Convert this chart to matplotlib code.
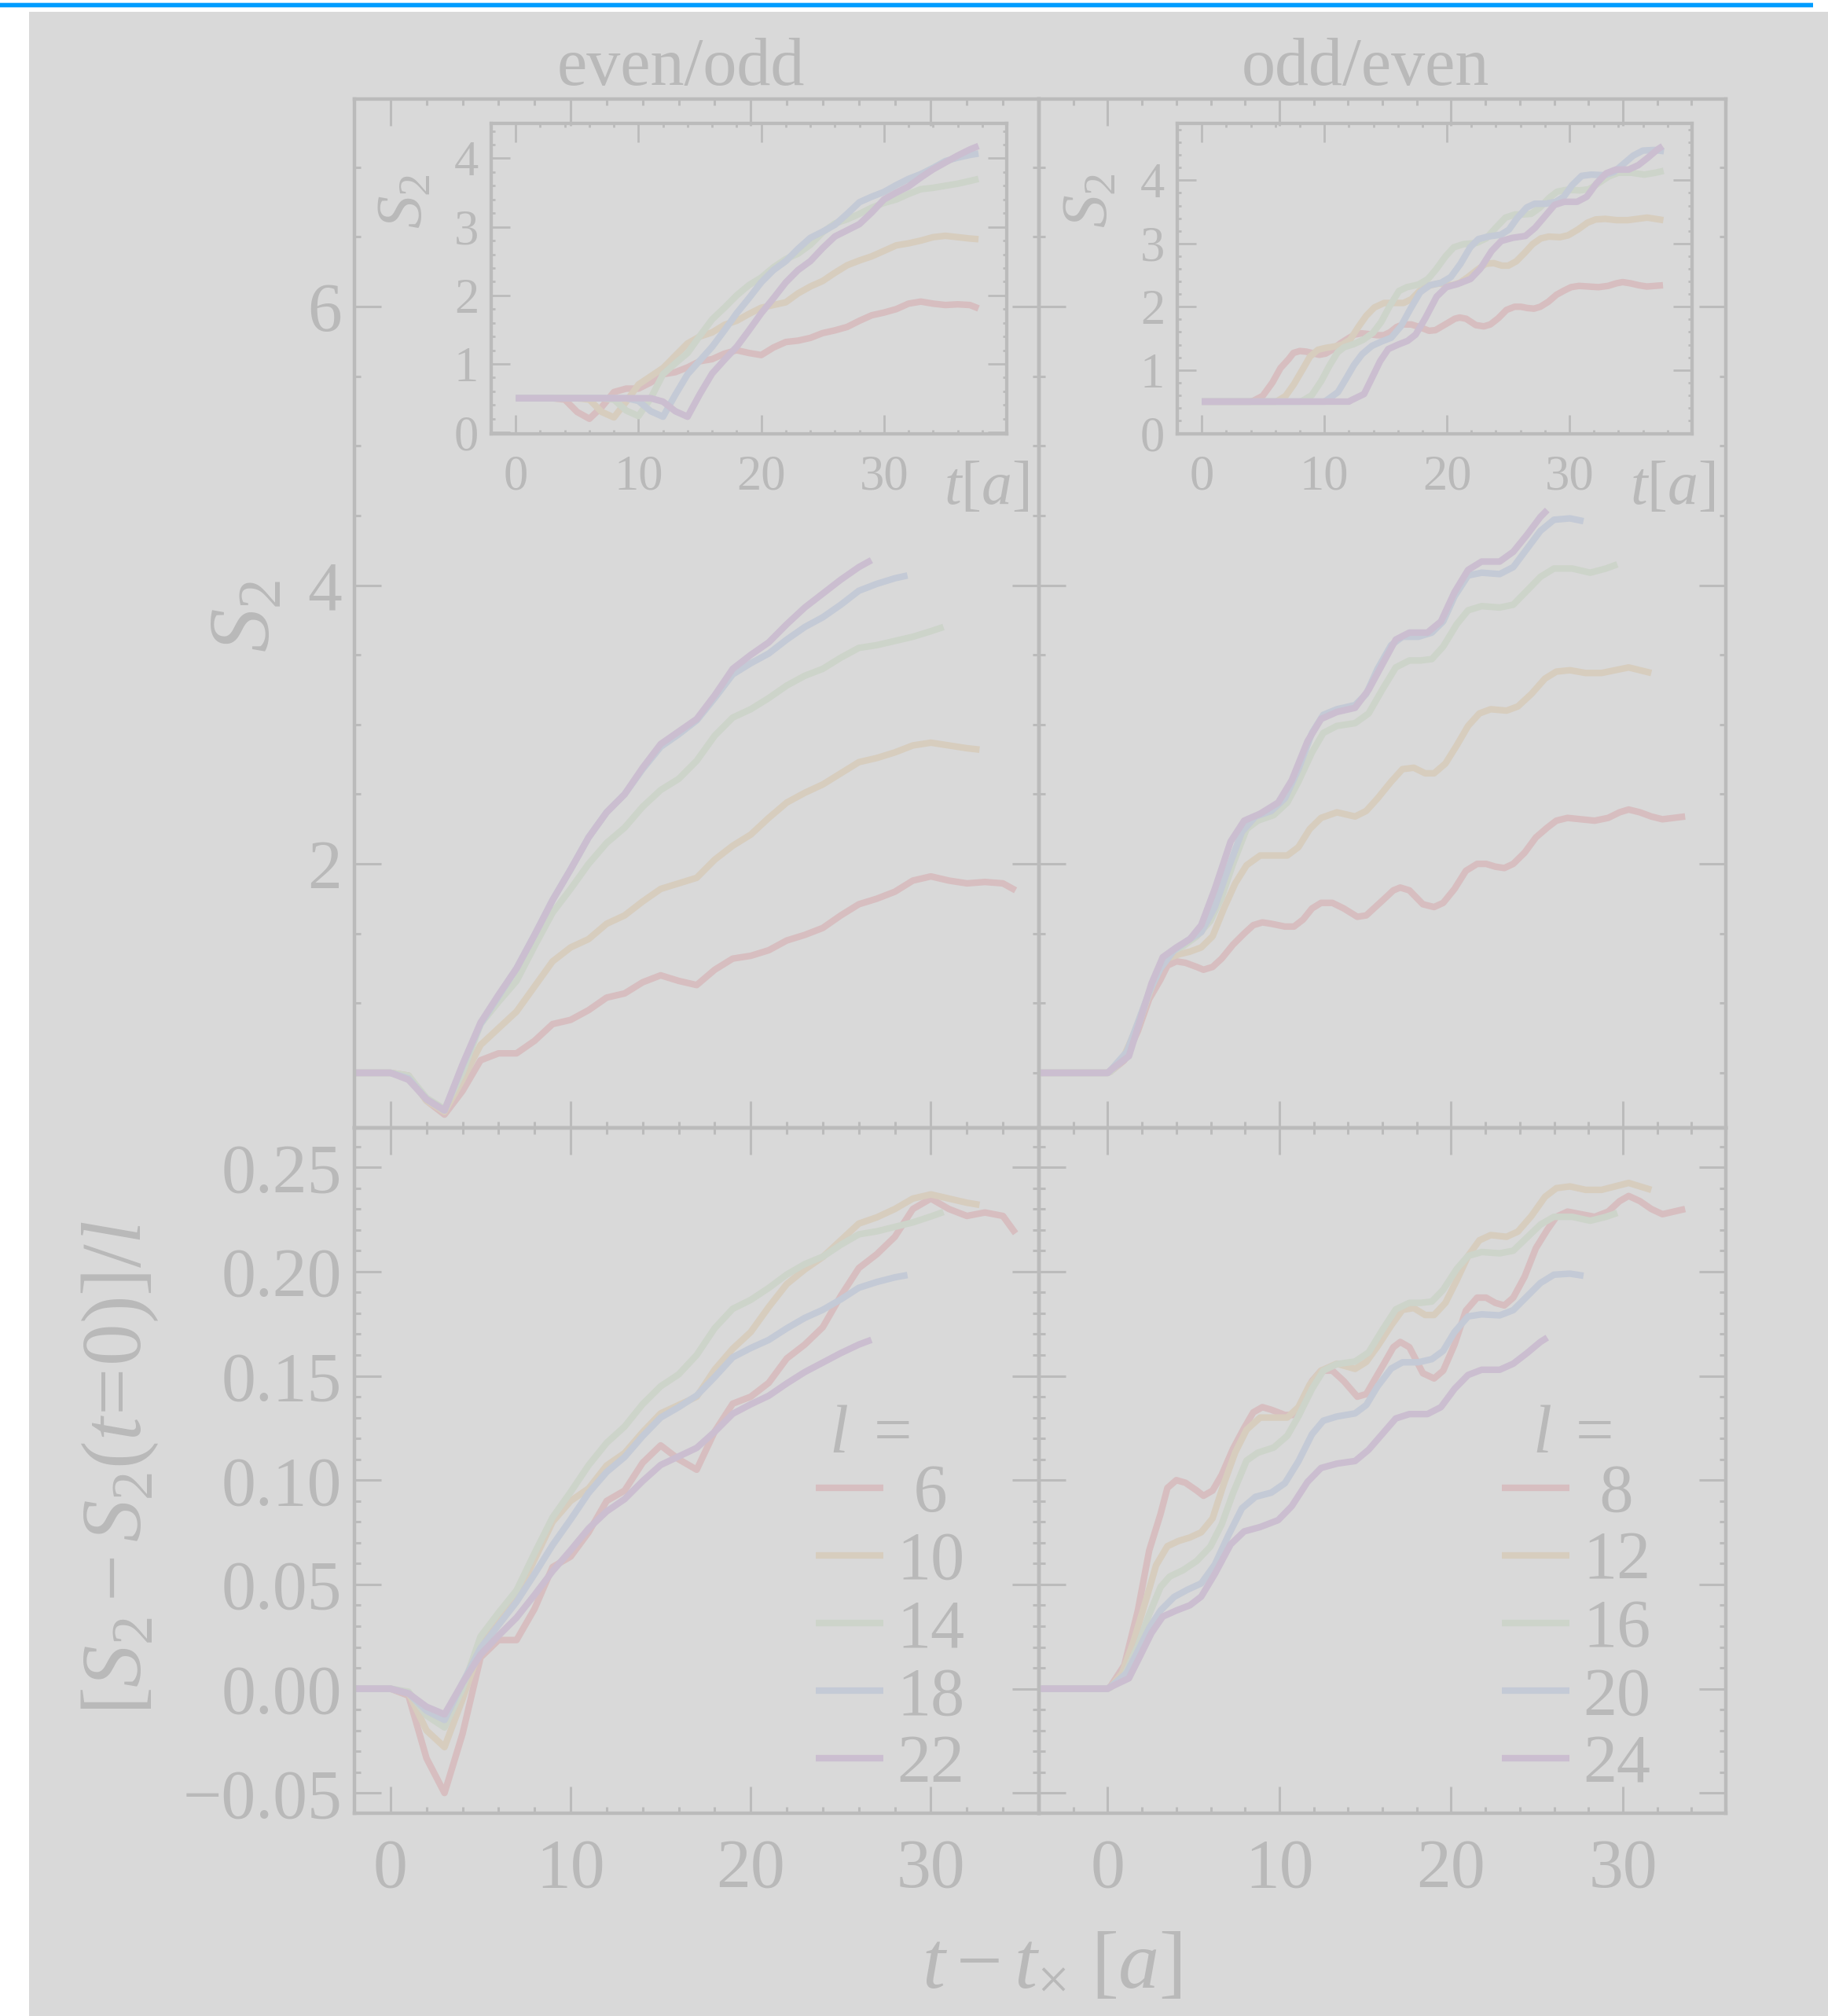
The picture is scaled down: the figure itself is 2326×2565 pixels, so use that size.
import numpy as np
import matplotlib
matplotlib.use("Agg")
import matplotlib.pyplot as plt
from matplotlib.patches import Rectangle
from matplotlib.ticker import MultipleLocator, FixedLocator, FuncFormatter

W, H = 2326, 2565
BG = '#d9d9d9'
GC = '#bbbbbb'   # spines / ticks
TC = '#b9b9b9'   # text

plt.rcParams['font.family'] = ['Liberation Serif', 'DejaVu Serif']
plt.rcParams['mathtext.fontset'] = 'custom'
plt.rcParams['mathtext.rm'] = 'Liberation Serif'
plt.rcParams['mathtext.it'] = 'Liberation Serif:italic'
plt.rcParams['mathtext.bf'] = 'Liberation Serif:bold'

# ---------------- data ----------------
column_titles = ['even/odd', 'odd/even']
l_even_odd = [6, 10, 14, 18, 22]
l_odd_even = [8, 12, 16, 20, 24]
tx_even_odd = [3, 5, 7, 9, 11]       # crossing time t_x for each l
tx_odd_even = [4, 6, 8, 10, 12]
colors = ['#d7bec0', '#d7cdbe', '#cdd4ca', '#c4cad6', '#cbbed0']

# even/odd: tau = t - t_x ; value at t=0, values at tau = 0,1,2,..., value at tau_end
tau_grid = [0, 1, 2, 3, 4, 5, 6, 7, 8, 9, 10, 11, 12, 13, 14, 15, 16, 17, 18,
            19, 20, 21, 22, 23, 24, 25, 26, 27, 28, 29, 30, 31, 32, 33, 34]
tau_end_even_odd = [34.7, 32.7, 30.7, 28.7, 26.7]

s2_l06 = [0.50, 0.50, 0.48, 0.30, 0.20, 0.37, 0.59, 0.64, 0.64, 0.73, 0.85, 0.88, 0.95,
          1.04, 1.07, 1.15, 1.20, 1.16, 1.13, 1.24, 1.32, 1.34, 1.38, 1.45, 1.49, 1.54,
          1.63, 1.71, 1.75, 1.80, 1.88, 1.91, 1.88, 1.86, 1.87, 1.86, 1.81]
s2_l10 = [0.50, 0.50, 0.48, 0.30, 0.22, 0.45, 0.70, 0.82, 0.94, 1.12, 1.30, 1.40, 1.46,
          1.57, 1.63, 1.73, 1.82, 1.86, 1.90, 2.03, 2.13, 2.21, 2.33, 2.44, 2.51, 2.57,
          2.65, 2.73, 2.76, 2.80, 2.85, 2.87, 2.85, 2.83, 2.82]
s2_l14 = [0.50, 0.50, 0.48, 0.32, 0.24, 0.50, 0.85, 1.01, 1.16, 1.41, 1.65, 1.82, 2.00,
          2.15, 2.26, 2.41, 2.53, 2.61, 2.74, 2.92, 3.05, 3.11, 3.19, 3.28, 3.35, 3.40,
          3.48, 3.55, 3.57, 3.60, 3.63, 3.67, 3.70]
s2_l18 = [0.50, 0.50, 0.46, 0.31, 0.23, 0.55, 0.85, 1.05, 1.25, 1.49, 1.74, 1.96, 2.19,
          2.37, 2.50, 2.68, 2.84, 2.93, 3.03, 3.19, 3.36, 3.44, 3.51, 3.61, 3.70, 3.77,
          3.86, 3.96, 4.01, 4.05, 4.07]
s2_l22 = [0.50, 0.50, 0.45, 0.31, 0.23, 0.56, 0.86, 1.06, 1.25, 1.49, 1.74, 1.96, 2.19,
          2.37, 2.50, 2.69, 2.86, 2.95, 3.04, 3.21, 3.40, 3.50, 3.59, 3.72, 3.84, 3.94,
          4.04, 4.13, 4.18]

# odd/even: explicit tau = t - t_x samples
tau_l08 = [-4, 0, 0.18, 0.97, 1.76, 2.42, 3.08, 3.48, 4.00, 4.53, 5.19, 5.58, 6.11, 6.64,
           7.30, 7.95, 8.48, 9.01, 9.53, 10.32, 10.85, 11.38, 11.90, 12.43, 13.09, 13.75,
           14.54, 15.06, 15.59, 16.12, 16.64, 17.04, 17.57, 18.36, 19.01, 19.54, 20.20,
           20.86, 21.52, 22.04, 22.57, 23.10, 23.62, 24.28, 24.94, 25.60, 26.13, 26.78,
           27.57, 28.36, 29.15, 29.81, 30.34, 31.00, 31.66, 32.31, 32.97, 33.63]
s2_l08 = [0.50, 0.50, 0.51, 0.59, 0.80, 1.03, 1.17, 1.27, 1.30, 1.29, 1.26, 1.24, 1.26, 1.32,
          1.42, 1.50, 1.56, 1.58, 1.57, 1.55, 1.55, 1.60, 1.68, 1.72, 1.72, 1.68,
          1.62, 1.63, 1.69, 1.75, 1.81, 1.83, 1.81, 1.71, 1.69, 1.72, 1.82,
          1.95, 2.00, 2.00, 1.98, 1.97, 2.00, 2.08, 2.19, 2.26, 2.31, 2.33,
          2.32, 2.31, 2.33, 2.37, 2.39, 2.37, 2.34, 2.32, 2.33, 2.34]
tau_l12 = [-6, 0, 0.18, 0.84, 1.50, 2.29, 2.82, 3.48, 4.13, 4.79, 5.45, 6.11, 6.77, 7.43,
           8.09, 8.88, 9.80, 10.46, 11.11, 11.77, 12.43, 13.35, 14.41, 15.06, 15.72, 16.51,
           17.17, 17.83, 18.49, 19.01, 19.67, 20.33, 20.99, 21.65, 22.31, 23.23, 23.89,
           24.68, 25.47, 26.13, 26.92, 27.84, 28.76, 29.55, 30.34, 31.00, 31.66]
s2_l12 = [0.50, 0.50, 0.51, 0.59, 0.77, 1.03, 1.21, 1.32, 1.35, 1.37, 1.40, 1.48, 1.68, 1.86,
          1.99, 2.06, 2.06, 2.06, 2.12, 2.25, 2.33, 2.37, 2.34, 2.38, 2.47, 2.59,
          2.68, 2.69, 2.65, 2.65, 2.72, 2.85, 2.99, 3.08, 3.11, 3.10, 3.13,
          3.22, 3.33, 3.38, 3.39, 3.37, 3.37, 3.39, 3.41, 3.39, 3.37]
tau_l16 = [-8, 0, 0.18, 0.97, 1.76, 2.42, 3.08, 3.61, 4.40, 5.19, 5.98, 6.64, 7.30, 8.09,
           8.74, 9.67, 10.46, 11.11, 11.90, 12.56, 13.35, 14.41, 15.20, 15.99, 16.78,
           17.57, 18.23, 18.88, 19.54, 20.33, 20.99, 21.78, 22.83, 23.62, 24.41, 25.20,
           25.99, 27.05, 28.10, 29.02, 29.68]
s2_l16 = [0.50, 0.50, 0.51, 0.60, 0.83, 1.07, 1.28, 1.36, 1.41, 1.48, 1.59, 1.76, 2.00, 2.25,
          2.31, 2.35, 2.44, 2.59, 2.80, 2.94, 2.99, 3.01, 3.08, 3.25, 3.41,
          3.46, 3.46, 3.47, 3.56, 3.72, 3.82, 3.85, 3.84, 3.86, 3.96, 4.06,
          4.12, 4.12, 4.09, 4.12, 4.15]
tau_l20 = [-10, 0, 0.18, 1.11, 1.76, 2.42, 3.08, 3.87, 4.66, 5.45, 6.24, 7.03, 7.82, 8.61,
           9.53, 10.32, 11.11, 11.90, 12.56, 13.35, 14.41, 15.06, 15.72, 16.51, 17.17,
           18.09, 18.88, 19.54, 20.20, 20.99, 21.78, 22.83, 23.62, 24.41, 25.20, 25.99,
           26.92, 27.71]
s2_l20 = [0.50, 0.50, 0.52, 0.65, 0.86, 1.08, 1.25, 1.38, 1.45, 1.51, 1.69, 1.97, 2.23, 2.34,
          2.38, 2.47, 2.68, 2.94, 3.07, 3.11, 3.14, 3.22, 3.40, 3.57, 3.63,
          3.63, 3.66, 3.74, 3.92, 4.07, 4.09, 4.08, 4.13, 4.26, 4.39, 4.47,
          4.48, 4.46]
tau_l24 = [-12, 0, 0.18, 1.24, 1.90, 2.55, 3.21, 4.00, 4.79, 5.45, 6.24, 7.16, 7.95, 8.88,
           9.93, 10.72, 11.64, 12.43, 13.35, 14.41, 15.20, 15.99, 16.78, 17.57, 18.62,
           19.41, 20.20, 20.99, 21.78, 22.83, 23.62, 24.41, 25.20, 25.60]
s2_l24 = [0.50, 0.50, 0.52, 0.62, 0.88, 1.14, 1.33, 1.40, 1.46, 1.56, 1.82, 2.16, 2.31, 2.36,
          2.44, 2.60, 2.88, 3.04, 3.09, 3.12, 3.25, 3.43, 3.61, 3.66, 3.66,
          3.74, 3.95, 4.11, 4.17, 4.17, 4.24, 4.36, 4.49, 4.54]

main_xticks = [0, 10, 20, 30]
top_yticks = [2, 4, 6]
bottom_yticks = [-0.05, 0.00, 0.05, 0.10, 0.15, 0.20, 0.25]
inset_xticks = [0, 10, 20, 30]
inset_yticks = [0, 1, 2, 3, 4]


def grid_curve(tx, tau_end, vals):
    return [-tx] + tau_grid[:len(vals) - 2] + [tau_end]


taus_even_odd = [grid_curve(tx, te, v) for tx, te, v in
                 zip(tx_even_odd, tau_end_even_odd, [s2_l06, s2_l10, s2_l14, s2_l18, s2_l22])]
series_even_odd = [s2_l06, s2_l10, s2_l14, s2_l18, s2_l22]
taus_odd_even = [tau_l08, tau_l12, tau_l16, tau_l20, tau_l24]
series_odd_even = [s2_l08, s2_l12, s2_l16, s2_l20, s2_l24]

# ---------------- figure ----------------
fig = plt.figure(figsize=(W / 100, H / 100), dpi=100)
fig.patch.set_facecolor('white')
fig.patches.append(Rectangle((37 / W, 0), 1 - 37 / W, (H - 15) / H, transform=fig.transFigure,
                             facecolor=BG, edgecolor='none', zorder=-10))
fig.patches.append(Rectangle((0, (H - 10) / H), 2307 / W, 7 / H, transform=fig.transFigure,
                             facecolor='#aadcff', edgecolor='none', zorder=-9))
fig.patches.append(Rectangle((0, (H - 9) / H), 2307 / W, 5 / H, transform=fig.transFigure,
                             facecolor='#009cff', edgecolor='none', zorder=-8))


def fa(x0, y0, x1, y1):
    return [x0 / W, (H - y1) / H, (x1 - x0) / W, (y1 - y0) / H]


ax_tl = fig.add_axes(fa(451, 126, 1322, 1435))
ax_tr = fig.add_axes(fa(1322, 126, 2196, 1435))
ax_bl = fig.add_axes(fa(451, 1435, 1322, 2307))
ax_br = fig.add_axes(fa(1322, 1435, 2196, 2307))
in_l = fig.add_axes(fa(625, 157, 1281, 552))
in_r = fig.add_axes(fa(1498, 157, 2153, 552))


def style(ax, maj, mnr, width, lsize, padx, pady, spw):
    ax.set_facecolor('none')
    for s in ax.spines.values():
        s.set_color(GC)
        s.set_linewidth(spw)
    ax.tick_params(which='both', direction='in', top=True, right=True, bottom=True,
                   left=True, color=GC, labelcolor=TC, width=width)
    ax.tick_params(which='major', length=maj, labelsize=lsize)
    ax.tick_params(which='minor', length=mnr)
    ax.tick_params(axis='x', which='major', pad=padx)
    ax.tick_params(axis='y', which='major', pad=pady)


def fmt2(v, p):
    v = round(v, 4)
    if abs(v) < 1e-9:
        v = 0.0
    return ('%.2f' % v).replace('-', '\u2212')


LW = 6.0
cols = [(ax_tl, ax_bl, in_l, l_even_odd, tx_even_odd, taus_even_odd, series_even_odd,
         (-2, 36), (-0.02, 4.51), (0.6935, 0.815)),
        (ax_tr, ax_br, in_r, l_odd_even, tx_odd_even, taus_odd_even, series_odd_even,
         (-4, 36), (-0.01, 4.9), (0.7185, 0.8364))]

for ci, (axt, axb, axi, ls, txs, taus, sers, xl, iyl, tpos) in enumerate(cols):
    for l, tx, tl, vals, c in zip(ls, txs, taus, sers, colors):
        tau = np.array(tl, dtype=float)
        s2 = np.array(vals, dtype=float)
        axt.plot(tau, s2, color=c, lw=LW, solid_capstyle='butt')
        axi.plot(tau + tx, s2, color=c, lw=LW, solid_capstyle='butt')
        axb.plot(tau, (s2 - s2[0]) / l, color=c, lw=LW, solid_capstyle='butt',
                 label=(' %d' % l) if l < 10 else '%d' % l)

    for ax in (axt, axb):
        style(ax, 24.5, 5.5, 2.2, 63, 23, 11.5, 3.2)
        ax.set_xlim(*xl)
        ax.xaxis.set_major_locator(FixedLocator(main_xticks))
        ax.xaxis.set_minor_locator(MultipleLocator(2))
    axt.set_ylim(0.105, 7.49)
    axt.yaxis.set_major_locator(FixedLocator(top_yticks))
    axt.yaxis.set_minor_locator(MultipleLocator(0.5))
    axt.tick_params(labelbottom=False)
    axb.set_ylim(-0.0597, 0.2689)
    axb.yaxis.set_major_locator(FixedLocator(bottom_yticks))
    axb.yaxis.set_minor_locator(MultipleLocator(0.01))
    axb.yaxis.set_major_formatter(FuncFormatter(fmt2))
    if ci == 1:
        axt.tick_params(labelleft=False)
        axb.tick_params(labelleft=False)

    style(axi, 17, 3.6, 2.0, 45, 19, 11.5, 3.1)
    axi.set_xlim(-2, 40)
    axi.set_ylim(*iyl)
    axi.xaxis.set_major_locator(FixedLocator(inset_xticks))
    axi.xaxis.set_minor_locator(MultipleLocator(2))
    axi.yaxis.set_major_locator(FixedLocator(inset_yticks))
    axi.yaxis.set_minor_locator(MultipleLocator(0.2))

    leg = axb.legend(loc='upper left', bbox_to_anchor=(0.674, 0.510), frameon=False,
                     fontsize=62, borderpad=0, handlelength=1.0, handletextpad=0.2,
                     labelspacing=0.077, borderaxespad=0)
    for t in leg.get_texts():
        t.set_color(TC)
    # legend heading "l ="
    axb.text(tpos[0], 0.5264, r'$l$', transform=axb.transAxes, ha='left', va='baseline',
             fontsize=62, color=TC)
    axb.text(tpos[1], 0.5264, '=', transform=axb.transAxes, ha='right', va='baseline',
             fontsize=62, color=TC)

# titles
fig.text(866 / W, 1 - 108 / H, column_titles[0], ha='center', va='baseline', fontsize=62, color=TC)
fig.text(1737 / W, 1 - 108 / H, column_titles[1], ha='center', va='baseline', fontsize=62, color=TC)

# axis labels
fig.text(316 / W, 1 - 784 / H, r'$S_2$', rotation=90, ha='center', va='center', fontsize=80, color=TC)
fig.text(153 / W, 1 - 1868 / H, r'$[S_2-S_2(t\!=\!\mathit{0})]/l$', rotation=90, ha='center',
         va='center', fontsize=77, color=TC)
fig.text(1338 / W, 1 - 2504 / H, r'$t-t_{\times}\ [a]$', ha='center', va='center', fontsize=75, color=TC)

# inset labels
for (xs, ys), (xt, yt) in [((517, 256), (1255, 622)), ((1389, 255), (2128, 622))]:
    fig.text(xs / W, 1 - ys / H, r'$S_2$', rotation=90, ha='center', va='center', fontsize=60, color=TC)
    fig.text(xt / W, 1 - yt / H, r'$t[a]$', ha='center', va='center', fontsize=56, color=TC)

fig.savefig('out.png', dpi=100, facecolor=fig.get_facecolor())
